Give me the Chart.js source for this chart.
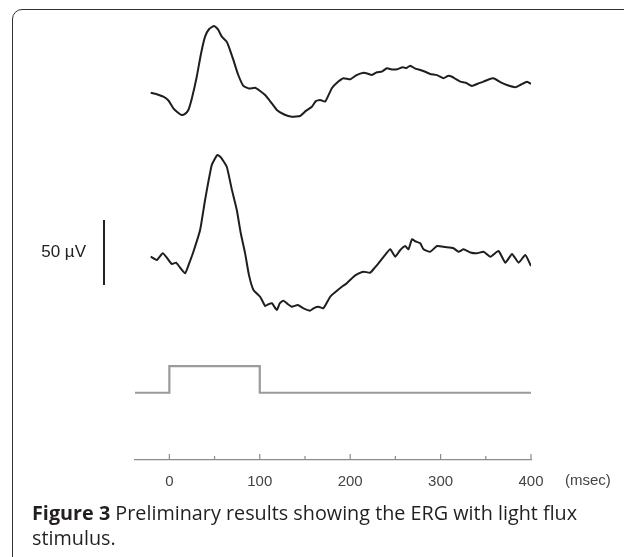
<!DOCTYPE html>
<html>
<head>
<meta charset="utf-8">
<script src="https://cdn.jsdelivr.net/npm/chart.js@4"></script>
<style>
  html, body { margin: 0; padding: 0; background: #fff; }
  #wrap { position: relative; width: 624px; height: 557px; overflow: hidden; background: #fff; }
  #frame { position: absolute; left: 12px; top: 9px; width: 700px; height: 640px;
           border: 1.6px solid #333; border-radius: 10px; box-sizing: border-box; }
  #cv { position: absolute; left: 0; top: 0; }
  #caption { position: absolute; left: 32px; top: 500px; width: 600px; white-space: nowrap;
             font-family: "Open Sans", sans-serif; font-size: 19.8px; line-height: 25px; color: #231f20; }
  #caption b { font-weight: 700; }
</style>
</head>
<body>
<div id="wrap">
  <div id="frame"></div>
  <canvas id="cv" width="624" height="500"></canvas>
  <div id="caption"><b>Figure 3</b> Preliminary results showing the ERG with light flux<br>stimulus.</div>
</div>
<script>
// ---- data (time in msec, amplitude in µV) ----
const topTime = [-20.6,-14,-6.6,-1,4.4,9,13.7,17,21.0,25,30.3,35,39.5,44,49.5,54,58.0,63.5,67,70.8,76,81.9,88,94.9,100,105.9,112,118.9,127,135.5,144.7,151,157.6,162,166.8,172.3,179.7,186,192.6,200.0,207,214.7,219,224.0,229.5,235,240.6,246,251.7,258,262,266.4,272,277.5,283,288.5,296,303.3,308,312.6,317,321.8,328,334.7,341,347.5,353,358.6,366,373.4,382.6,389,395.6,400];
const topUV   = [0,-1.2,-3.1,-6,-12.0,-15,-17.2,-16.5,-13.3,-4,12.3,30,43.1,49,51.3,48.5,43.1,39.2,33,25.2,14,5.2,3.2,3.8,1.5,-1.8,-7,-13.3,-16.8,-18.5,-17.9,-14,-10.8,-6.5,-5.6,-6.9,3.4,8,11.1,10.3,13.5,15.4,14.8,13.6,15.7,16.2,18.8,17.9,18.0,19.6,18.9,20.8,18.5,17.5,16.1,14.4,13.5,11.1,12.9,12.3,10.4,8.5,7.6,5.2,6.9,8.5,10.2,11.1,8.2,5.9,4.2,6.3,8.5,6.7];

const midTime = [-20.6,-13.9,-7.3,-2,2.7,7.4,12,17.4,22,26.6,34.0,39.5,46.9,53.1,57,63.5,69,74.6,79,83.8,88,93.0,100.4,105.9,109,113.3,118.9,122,126.2,131,135.5,142,148.3,155.7,160,164.9,170.4,177.9,184,190.8,196,203.7,209,214.7,222.1,227,231.3,238,244.3,249.8,255,260.9,264.5,268.3,272,277.5,281.1,288.5,296.0,305,314.3,319.9,325.4,333,340.2,347.5,355.0,364.1,371.6,379.0,386.3,393.7,400];
const midUV   = [0,-2.5,2.6,-1.5,-5.6,-4.6,-8.5,-12.8,-5,3.8,20.5,43.6,70.5,78.2,76.5,69.2,52,35.9,18,2.6,-14,-25.6,-30.8,-37.9,-36.8,-35.8,-41.0,-36,-33.8,-36.5,-38.5,-37.2,-39.7,-41.5,-39.5,-38.5,-39.7,-30.8,-27,-23.1,-20.6,-15.4,-13.1,-11.5,-12.3,-8.6,-5.1,0.8,5.7,0,4.8,8.2,5.7,13.4,11.9,10.3,5.7,3.8,8.2,7.4,6.5,3.8,5.7,3.2,2.6,3.8,0,4.4,-4.6,2.1,-4.6,1.3,-7.2];

const stimTime  = [-38, 0, 0, 100, 100, 400];
const stimLevel = [0, 0, 1, 1, 0, 0];

const tickValues = [0, 50, 100, 150, 200, 250, 300, 350, 400];
const tickLabels = ['0', '', '100', '', '200', '', '300', '', '400'];
const xUnit = '(msec)';
const scaleBarLabel = '50 µV';
const scaleBarUV = 50;
const scaleBarBase = -21.8;

const toXY = (t, v) => t.map((x, i) => ({ x, y: v[i] }));

const overlay = {
  id: 'overlay',
  afterDraw(chart) {
    const { ctx, chartArea } = chart;
    const xs = chart.scales.x;
    const ym = chart.scales.yMid;
    ctx.save();
    // inward ticks on the time axis
    ctx.strokeStyle = '#8c8c8c';
    ctx.lineWidth = 1.2;
    tickValues.forEach(v => {
      const px = xs.getPixelForValue(v);
      const len = v % 100 === 0 ? 6 : 4;
      ctx.beginPath();
      ctx.moveTo(px, xs.top);
      ctx.lineTo(px, xs.top - len);
      ctx.stroke();
    });
    // 50 µV scale bar
    const bx = chartArea.left - 31;
    const y0 = ym.getPixelForValue(scaleBarBase);
    const y1 = ym.getPixelForValue(scaleBarBase + scaleBarUV);
    ctx.strokeStyle = '#222';
    ctx.lineWidth = 2;
    ctx.beginPath();
    ctx.moveTo(bx, y0);
    ctx.lineTo(bx, y1);
    ctx.stroke();
    ctx.fillStyle = '#222';
    ctx.font = '17px "Liberation Sans", Arial, sans-serif';
    ctx.textAlign = 'right';
    ctx.textBaseline = 'middle';
    ctx.fillText(scaleBarLabel, bx - 18, (y0 + y1) / 2);
    // unit label
    ctx.font = '15px "Liberation Sans", Arial, sans-serif';
    ctx.fillStyle = '#444';
    ctx.textAlign = 'left';
    ctx.fillText(xUnit, chartArea.right + 34, xs.top + 21);
    ctx.restore();
  }
};

new Chart(document.getElementById('cv'), {
  type: 'line',
  data: {
    datasets: [
      { data: toXY(stimTime, stimLevel), yAxisID: 'yStim', borderColor: '#9b9b9b', borderWidth: 2.2, pointRadius: 0, tension: 0 },
      { data: toXY(midTime, midUV), yAxisID: 'yMid', borderColor: '#1e1e1e', borderWidth: 2, pointRadius: 0, tension: 0.15 },
      { data: toXY(topTime, topUV), yAxisID: 'yTop', borderColor: '#1e1e1e', borderWidth: 2, pointRadius: 0, tension: 0.15 }
    ]
  },
  options: {
    responsive: false,
    animation: false,
    events: [],
    layout: { padding: { left: 135, right: 93, top: 16, bottom: 0 } },
    plugins: { legend: { display: false }, tooltip: { enabled: false } },
    scales: {
      x: {
        type: 'linear',
        min: -38,
        max: 400,
        afterBuildTicks: s => { s.ticks = tickValues.map(v => ({ value: v })); },
        afterFit: s => { s.height = 40; },
        grid: { display: false },
        border: { display: true, color: '#8c8c8c', width: 1.2 },
        ticks: {
          padding: 5,
          color: '#444',
          font: { family: '"Liberation Sans", Arial, sans-serif', size: 15 },
          maxRotation: 0,
          autoSkip: false,
          callback: (v) => { const i = tickValues.indexOf(v); return i >= 0 ? tickLabels[i] : ''; }
        }
      },
      yStim: { type: 'linear', display: false, stack: 'erg', stackWeight: 130, min: -2.52, max: 2.35 },
      yMid:  { type: 'linear', display: false, stack: 'erg', stackWeight: 190, min: -56.4, max: 89.8 },
      yTop:  { type: 'linear', display: false, stack: 'erg', stackWeight: 124, min: -36.4, max: 59 }
    }
  },
  plugins: [overlay]
});
</script>
</body>
</html>
